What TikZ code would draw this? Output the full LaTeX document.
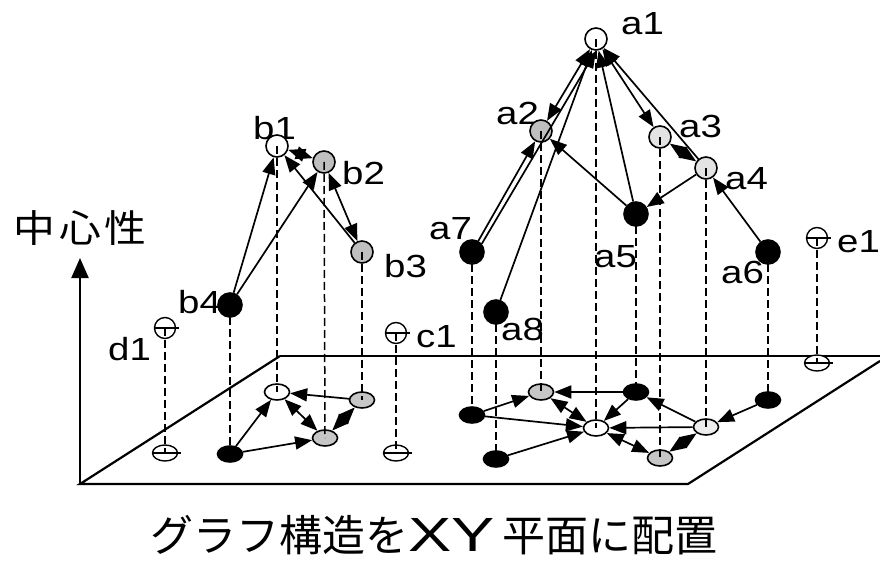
\documentclass[tikz,border=0pt]{standalone}
\usepackage{fontspec}
\usetikzlibrary{arrows.meta,shapes.geometric}
\newfontfamily\labfont[FakeStretch=1.2]{Liberation Sans}
\newfontfamily\cjkwide[FakeStretch=1.1]{Noto Sans CJK JP}
\newfontfamily\cjkfont{Noto Sans CJK JP}
\newfontfamily\xyfont[FakeStretch=1.35]{Liberation Sans}
\begin{document}
\begin{tikzpicture}[x=1pt,y=-1pt,
  tip/.tip={Triangle[length=17pt,width=13pt]},
  edge/.style={line width=1.7pt,-tip},
  bidir/.style={line width=1.7pt,tip-tip},
  up/.style={circle,draw,line width=1.6pt,minimum size=22pt,inner sep=0pt},
  upw/.style={up,fill=white},
  upg/.style={up,fill=gray!50},
  upl/.style={up,fill=gray!22},
  upb/.style={up,fill=black,minimum size=24pt},
  upo/.style={up,fill=white,minimum size=21pt,line width=1.4pt},
  low/.style={ellipse,draw,line width=1.6pt,minimum width=25pt,minimum height=16pt,inner sep=0pt},
  loww/.style={low,fill=white},
  lowg/.style={low,fill=gray!45},
  lowl/.style={low,fill=gray!15},
  lowb/.style={low,fill=black},
  lowo/.style={low,fill=white,line width=1.4pt},
  bar/.style={line width=1.4pt},
  drop/.style={dash pattern=on 8pt off 4pt,line width=1.5pt},
  lab/.style={font=\labfont\fontsize{32}{38}\selectfont,inner sep=0pt,anchor=base west},
  plane/.style={line width=2.2pt}
]
\useasboundingbox (0,0) rectangle (880,561);

% plane
\coordinate (p1) at (80,484);
\coordinate (p2) at (688,484);
\coordinate (p3) at (280,356);
\coordinate (p4) at (880,356);
\coordinate (p5) at (880,361);
\coordinate (axtop) at (80,258);
\draw[plane] (p3) -- (p1) -- (p2) -- (p5);
\draw[plane] (p3) -- (p4);
\draw[line width=2.2pt,-{Triangle[length=20pt,width=17pt]}] (p1) -- (axtop);

% texts
\node[font=\cjkwide\fontsize{38}{42}\selectfont,inner sep=0pt] (ylab) at (80,228) {中\hspace{4pt}心\hspace{4pt}性};
\node[font=\cjkfont\fontsize{43}{48}\selectfont,inner sep=0pt,anchor=base] (cap) at (434,551)
  {グラフ構造を\smash{\xyfont\fontsize{48}{52}\selectfont XY}\hspace{8pt}平面に配置};

% labels
\node[lab] (la1) at (621,35) {a1};
\node[lab] (la2) at (496,125) {a2};
\node[lab] (la3) at (679,138) {a3};
\node[lab] (la4) at (725,190) {a4};
\node[lab] (la5) at (594,267) {a5};
\node[lab] (la6) at (721,283) {a6};
\node[lab] (la7) at (429,240) {a7};
\node[lab] (la8) at (501,340) {a8};
\node[lab] (le1) at (837,252) {e1};
\node[lab] (lb1) at (253,140) {b1};
\node[lab] (lb2) at (342,185) {b2};
\node[lab] (lb3) at (384,277) {b3};
\node[lab] (lb4) at (178,313) {b4};
\node[lab] (ld1) at (108,360) {d1};
\node[lab] (lc1) at (416,347) {c1};

% lower (projected) nodes
\node[loww] (a1p) at (596,428) {};
\node[lowg] (a2p) at (541,392) {};
\node[lowg] (a3p) at (660,458) {};
\node[lowl] (a4p) at (706,427) {};
\node[lowb] (a5p) at (636,392) {};
\node[lowb] (a6p) at (768,400) {};
\node[lowb] (a7p) at (472,415) {};
\node[lowb] (a8p) at (496,459) {};
\node[loww] (b1p) at (277,392) {};
\node[lowg] (b2p) at (325,438) {};
\node[lowg] (b3p) at (362,400) {};
\node[lowb] (b4p) at (230,454) {};
\node[lowo] (c1p) at (396,453) {};
\node[lowo] (d1p) at (165,453) {};
\node[lowo] (e1p) at (817,363) {};

% upper nodes
\node[upw] (a1) at (596,39) {};
\node[upg] (a2) at (541,131) {};
\node[upl] (a3) at (660,137) {};
\node[upl] (a4) at (706,168) {};
\node[upb] (a5) at (636,214) {};
\node[upb] (a6) at (768,252) {};
\node[upb] (a7) at (472,252) {};
\node[upb] (a8) at (496,312) {};
\node[upw] (b1) at (277,146) {};
\node[upg] (b2) at (324,162) {};
\node[upg] (b3) at (362,252) {};
\node[upb] (b4) at (230,305) {};
\node[upo] (c1) at (396,333) {};
\node[upo] (d1) at (165,328) {};
\node[upo] (e1) at (817,238) {};

% bars of the isolated nodes
\foreach \n in {c1,d1,e1,c1p,d1p,e1p}
  \draw[bar] (\n.west) -- ([xshift=3pt]\n.east);

% upper edges
\draw[edge] (b4) -- (b1);
\draw[edge] (b4) -- (b2);
\draw[edge] (b3) -- (b1);
\draw[bidir] (b1) -- (b2);
\draw[bidir] (b2) -- (b3);
\draw[edge] (a7) -- (a2);
\draw[edge] (a7.40) -- (a1.south);
\draw[edge] (a8) -- (a1);
\draw[bidir] (a1) -- (a2);
\draw[edge] (a5) -- (a1);
\draw[bidir] (a1) -- (a3);
\draw[edge] (a4) -- (a1);
\draw[edge] (a5) -- (a2);
\draw[edge] (a4) -- (a5);
\draw[bidir] (a3) -- (a4);
\draw[edge] (a6) -- (a4);

% lower edges
\draw[edge] (b4p) -- (b1p);
\draw[edge] (b4p) -- (b2p);
\draw[edge] (b3p) -- (b1p);
\draw[bidir] (b1p) -- (b2p);
\draw[bidir] (b2p) -- (b3p);
\draw[edge] (a7p) -- (a2p);
\draw[edge] (a7p) -- (a1p);
\draw[edge] (a8p) -- (a1p);
\draw[bidir] (a1p) -- (a2p);
\draw[edge] (a5p) -- (a1p);
\draw[bidir] (a1p) -- (a3p);
\draw[edge] (a4p) -- (a1p);
\draw[edge] (a5p) -- (a2p);
\draw[edge] (a4p) -- (a5p);
\draw[bidir] (a3p) -- (a4p);
\draw[edge] (a6p) -- (a4p);

% vertical drop lines
\foreach \n in {a1,a2,a3,a4,a5,a6,a7,a8,b1,b2,b3,b4,c1,d1,e1}
  \draw[drop] (\n.center) -- (\n p.center);
\end{tikzpicture}
\end{document}
